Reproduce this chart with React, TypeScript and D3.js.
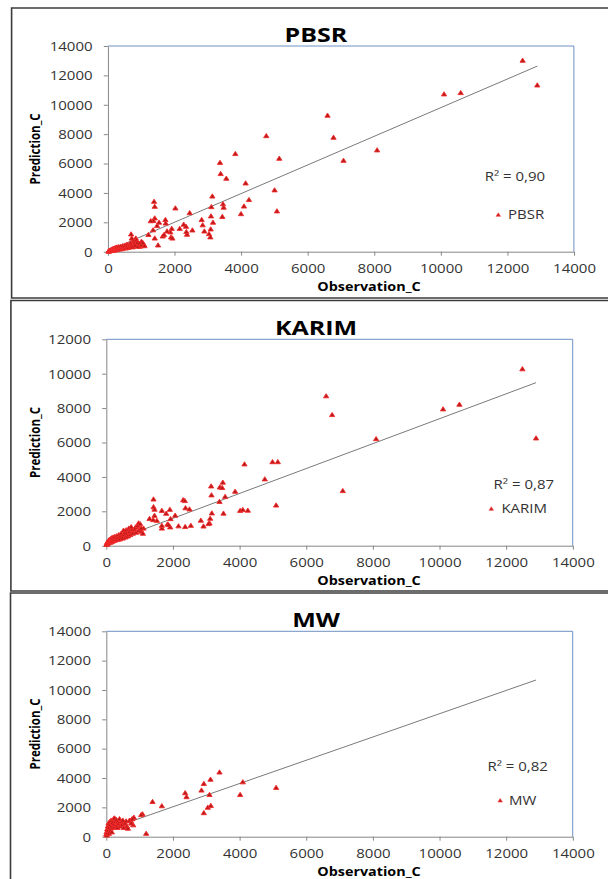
import React, { useEffect, useRef } from 'react';
import * as d3 from 'd3';

// tick values
const xTicks = [0, 2000, 4000, 6000, 8000, 10000, 12000, 14000];
const yTicks14 = [0, 2000, 4000, 6000, 8000, 10000, 12000, 14000];
const yTicks12 = [0, 2000, 4000, 6000, 8000, 10000, 12000];

const seriesNames = ['PBSR', 'KARIM', 'MW'];
const r2Labels = ['R² = 0,90', 'R² = 0,87', 'R² = 0,82'];

// [Observation_C, Prediction_C]
const pbsrPoints: [number, number][] = [
  [12460, 13000], [12900, 11320], [10100, 10710], [10600, 10800], [6600, 9260], [6780, 7760],
  [8090, 6900], [7080, 6190], [4760, 7870], [5150, 6330], [5010, 4180], [5080, 2750],
  [3830, 6650], [3370, 6050], [3390, 5290], [3560, 4970], [4140, 4650], [4240, 3520],
  [4090, 3080], [4000, 2560], [3140, 3760], [3460, 3230], [3480, 3000], [3110, 3040],
  [3440, 2370], [3100, 2410], [3160, 1980], [3090, 1520], [3040, 1200], [3080, 980],
  [2820, 2160], [2850, 1800], [2900, 1380], [2030, 2950], [2460, 2630], [2540, 1450],
  [2280, 1840], [2350, 1700], [2160, 1560], [2380, 1160], [2360, 1340], [1390, 3400],
  [1410, 3060], [1410, 2270], [1370, 2090], [1290, 2080], [1540, 1980], [1730, 2160],
  [1740, 1920], [1480, 1750], [1920, 1560], [1880, 1320], [1900, 980], [1780, 1380],
  [1650, 1040], [1690, 1140], [1940, 900], [1510, 430], [1360, 1460], [1410, 900],
  [1220, 1140], [700, 1180], [720, 900], [840, 900], [1010, 680], [1090, 450], [960, 340],
  [20, 10], [30, 40], [40, 20], [50, 60], [60, 30], [70, 80], [80, 50], [90, 100],
  [100, 60], [110, 120], [120, 80], [130, 150], [140, 90], [150, 170], [160, 110], [170, 60],
  [180, 200], [190, 130], [200, 150], [210, 230], [220, 100], [230, 180], [240, 260], [250, 140],
  [260, 200], [270, 290], [280, 120], [290, 230], [300, 180], [320, 310], [330, 200], [350, 260],
  [360, 150], [380, 340], [400, 230], [420, 300], [430, 180], [450, 380], [470, 260], [500, 330],
  [520, 420], [540, 220], [560, 300], [580, 480], [600, 380], [620, 260], [650, 500], [680, 350],
  [700, 600], [720, 420], [750, 300], [780, 700], [800, 520], [820, 420], [860, 780], [880, 600],
  [900, 350], [950, 550], [1000, 450], [1050, 600], [1100, 380],
];

const karimPoints: [number, number][] = [
  [12490, 10260], [12900, 6240], [10110, 7930], [10600, 8200], [6600, 8690], [6780, 7600],
  [8100, 6200], [7100, 3180], [4150, 4730], [4990, 4860], [5150, 4860], [4760, 3860],
  [5100, 2340], [3870, 3140], [3150, 3450], [3410, 3390], [3480, 3360], [3500, 3670],
  [3570, 2840], [3400, 2550], [3160, 2930], [3520, 1870], [3170, 1880], [3120, 1570],
  [3100, 1300], [3070, 1260], [2840, 1460], [2920, 1120], [4020, 2030], [4100, 2080],
  [4250, 2040], [2310, 2650], [2360, 2600], [2380, 2180], [2500, 2110], [2370, 1090],
  [2540, 1160], [2170, 1130], [1420, 2690], [1420, 2240], [1450, 2100], [1910, 2090],
  [1670, 2030], [1800, 1860], [1300, 1560], [1450, 1740], [1520, 1450], [2070, 1750],
  [1930, 1550], [1840, 1240], [1920, 1070], [1870, 1200], [1670, 1000], [1670, 1160],
  [1410, 1490], [970, 1300], [1120, 1000], [1060, 810],
  [10, 50], [20, 150], [30, 80], [40, 200], [50, 120], [60, 250], [70, 160], [80, 300],
  [90, 190], [100, 350], [110, 230], [120, 280], [130, 180], [140, 400], [150, 300], [160, 220],
  [170, 440], [180, 340], [200, 250], [210, 480], [230, 380], [250, 290], [260, 520], [280, 420],
  [300, 330], [320, 560], [340, 450], [360, 350], [380, 620], [400, 480], [420, 380], [450, 700],
  [470, 540], [500, 420], [520, 880], [540, 620], [560, 760], [580, 480], [600, 900], [620, 700],
  [650, 540], [680, 1000], [700, 800], [720, 620], [750, 1080], [780, 900], [800, 700], [850, 950],
  [880, 1060], [900, 760], [950, 1150], [980, 880], [1020, 1250], [1050, 1000], [1100, 700],
];

const mwPoints: [number, number][] = [
  [3400, 4380], [2930, 3600], [3130, 3890], [4100, 3710], [5100, 3330], [2370, 2970],
  [2410, 2700], [2860, 3150], [3100, 2850], [4020, 2850], [1390, 2370], [1670, 2080],
  [3050, 1980], [3140, 2100], [2930, 1610], [1090, 1530], [1050, 1480], [1200, 200],
  [830, 1300], [810, 780], [740, 1070],
  [0, 150], [10, 300], [20, 80], [30, 500], [40, 250], [50, 700], [60, 400], [70, 900],
  [80, 200], [90, 600], [100, 1000], [110, 350], [120, 800], [130, 500], [150, 1100], [160, 700],
  [170, 300], [190, 950], [200, 600], [220, 1200], [230, 850], [250, 1250], [260, 700], [280, 1000],
  [300, 1150], [320, 800], [340, 600], [350, 1050], [380, 900], [400, 1200], [420, 700], [450, 1000],
  [480, 800], [500, 1100], [530, 600], [560, 900], [600, 1050], [620, 700], [650, 550], [700, 1100],
  [750, 900], [780, 1200],
];

// linear trendlines (endpoints)
const pbsrTrend: [number, number][] = [[0, 50], [12900, 12630]];
const karimTrend: [number, number][] = [[0, 140], [12900, 9480]];
const mwTrend: [number, number][] = [[0, 450], [12900, 10680]];

// the screenshot is stretched horizontally
const K = 1.25;
const W = 608;
const H = 879;
const FONT = "'Open Sans', sans-serif";

const panels = [
  {
    name: seriesNames[0], r2: r2Labels[0], points: pbsrPoints, trend: pbsrTrend, yTicks: yTicks14, yMax: 14000,
    box: { left: 11.6, top: 8, bottom: 298 },
    plot: { left: 107.8, right: 573.9, top: 46, bottom: 251.7 },
    titleY: 42, r2Pos: [484.7, 176.7], legendMark: [498.3, 215], legendTextX: 508,
  },
  {
    name: seriesNames[1], r2: r2Labels[1], points: karimPoints, trend: karimTrend, yTicks: yTicks12, yMax: 12000,
    box: { left: 10.9, top: 300.5, bottom: 591 },
    plot: { left: 106.2, right: 572.7, top: 339.3, bottom: 545.7 },
    titleY: 335, r2Pos: [493.6, 485], legendMark: [491.3, 509], legendTextX: 501.4,
  },
  {
    name: seriesNames[2], r2: r2Labels[2], points: mwPoints, trend: mwTrend, yTicks: yTicks14, yMax: 14000,
    box: { left: 10.5, top: 593, bottom: null },
    plot: { left: 106.2, right: 572.7, top: 631.3, bottom: 836.7 },
    titleY: 626.7, r2Pos: [487.4, 766.7], legendMark: [500.2, 800.7], legendTextX: 509.1,
  },
];

const tri = (s: number) => `M0,${-s * 0.62}L${s * 0.5},${s * 0.38}L${-s * 0.5},${s * 0.38}Z`;

function drawPanel(svg: any, p: any) {
  const g = svg.append('g');
  const x = d3.scaleLinear().domain([0, 14000]).range([p.plot.left / K, p.plot.right / K]);
  const y = d3.scaleLinear().domain([0, p.yMax]).range([p.plot.bottom, p.plot.top]);

  // panel frame (screenshot border)
  let d = `M${W / K},${p.box.top}H${p.box.left / K}`;
  d += p.box.bottom ? `V${p.box.bottom}H${W / K}` : `V${H}`;
  g.append('path').attr('d', d).attr('fill', 'none')
    .attr('stroke', '#3c3c3c').attr('stroke-width', 1.6).attr('vector-effect', 'non-scaling-stroke');

  // top & right plot border
  g.append('path')
    .attr('d', `M${x(0)},${y(p.yMax)}H${x(14000)}V${y(0)}`)
    .attr('fill', 'none').attr('stroke', '#6f90c4').attr('stroke-width', 1)
    .attr('vector-effect', 'non-scaling-stroke');

  const yAxis = g.append('g')
    .attr('transform', `translate(${x(0)},0)`)
    .call(d3.axisLeft(y).tickValues(p.yTicks).tickSize(4 / K).tickSizeOuter(0).tickPadding(9).tickFormat(d3.format('d')));
  const xAxis = g.append('g')
    .attr('transform', `translate(0,${y(0)})`)
    .call(d3.axisBottom(x).tickValues(xTicks).tickSize(4).tickSizeOuter(0).tickFormat(d3.format('d')));

  [yAxis, xAxis].forEach(a => {
    a.select('.domain').attr('stroke', '#868686').attr('vector-effect', 'non-scaling-stroke');
    a.selectAll('line').attr('stroke', '#868686').attr('vector-effect', 'non-scaling-stroke');
    a.selectAll('text').attr('font-family', FONT).attr('font-size', 12).attr('fill', '#333');
  });
  yAxis.selectAll('text').attr('dy', '0.36em');
  xAxis.selectAll('text').attr('y', 17).attr('dy', '0.36em');

  // trendline
  g.append('path')
    .datum(p.trend)
    .attr('d', d3.line().x((v: any) => x(v[0])).y((v: any) => y(v[1])))
    .attr('fill', 'none').attr('stroke', '#7a7a7a').attr('stroke-width', 1)
    .attr('vector-effect', 'non-scaling-stroke');

  // points
  g.append('g').selectAll('path')
    .data(p.points)
    .join('path')
    .attr('d', tri(4.2))
    .attr('transform', (v: any) => `translate(${x(v[0])},${y(v[1])})`)
    .attr('fill', '#b51a1a').attr('stroke', '#f42a2a').attr('stroke-width', 0.8);

  // title
  g.append('text')
    .attr('x', 316 / K).attr('y', p.titleY)
    .attr('text-anchor', 'middle')
    .attr('font-family', FONT).attr('font-weight', 'bold').attr('font-size', 20)
    .text(p.name);

  // axis titles
  g.append('text')
    .attr('x', 369 / K).attr('y', p.plot.bottom + 35.5).attr('dy', '0.36em')
    .attr('text-anchor', 'middle')
    .attr('font-family', FONT).attr('font-weight', 'bold').attr('font-size', 11.5)
    .text('Observation_C');
  const my = (p.plot.top + p.plot.bottom) / 2;
  g.append('text')
    .attr('transform', `translate(${35 / K},${my}) rotate(-90)`)
    .attr('dy', '0.36em')
    .attr('text-anchor', 'middle')
    .attr('font-family', FONT).attr('font-weight', 'bold').attr('font-size', 11.5)
    .text('Prediction_C');

  // R² label and legend
  g.append('text')
    .attr('x', p.r2Pos[0] / K).attr('y', p.r2Pos[1]).attr('dy', '0.36em')
    .attr('font-family', FONT).attr('font-size', 12).attr('fill', '#333')
    .text(p.r2);
  g.append('path')
    .attr('d', tri(3.6))
    .attr('transform', `translate(${p.legendMark[0] / K},${p.legendMark[1]})`)
    .attr('fill', '#d42020').attr('stroke', '#f04040').attr('stroke-width', 0.5);
  g.append('text')
    .attr('x', p.legendTextX / K).attr('y', p.legendMark[1]).attr('dy', '0.36em')
    .attr('font-family', FONT).attr('font-size', 12).attr('fill', '#333')
    .text(p.name);
}

export default function App() {
  const svgRef = useRef<SVGSVGElement>(null);

  useEffect(() => {
    const svg = d3.select(svgRef.current);
    svg.selectAll('*').remove();
    svg.append('rect').attr('width', W / K).attr('height', H).attr('fill', '#fff');
    panels.forEach(p => drawPanel(svg, p));
  }, []);

  return (
    <svg
      ref={svgRef}
      width={W}
      height={H}
      viewBox={`0 0 ${W / K} ${H}`}
      preserveAspectRatio="none"
      style={{ position: 'absolute', left: 0, top: 0, display: 'block' }}
    />
  );
}
